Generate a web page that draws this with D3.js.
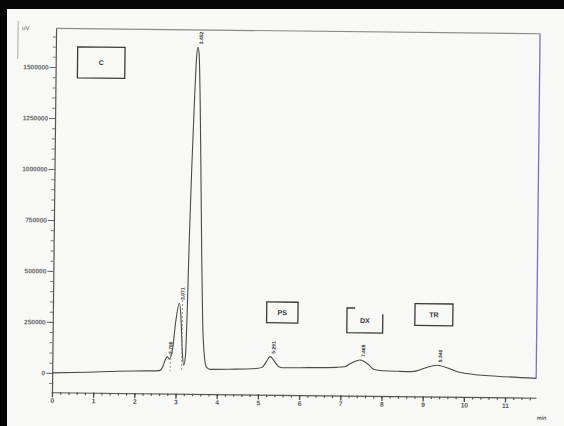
<!DOCTYPE html>
<html>
<head>
<meta charset="utf-8">
<script src="https://cdn.jsdelivr.net/npm/d3@7"></script>
<style>
body { margin: 0; background: #f8f8f7; }
svg { display: block; }
text { font-family: "Liberation Sans", Arial, sans-serif; }
</style>
</head>
<body>
<svg id="chart" width="564" height="426"></svg>
<script>
"use strict";

// chromatogram trace: time (min) and detector signal (uV)
var times = [0, 0.8, 1.6, 2.3, 2.6, 2.68, 2.74, 2.79, 2.84, 2.92, 2.98, 3.07, 3.11, 3.15,
    3.19, 3.23, 3.26, 3.29, 3.33, 3.38, 3.42, 3.45, 3.48, 3.52, 3.56, 3.60, 3.64, 3.69,
    3.74, 3.83, 4.3, 5.0, 5.1, 5.18, 5.29, 5.4, 5.5, 5.6, 6.2, 6.9, 7.1, 7.25, 7.47,
    7.65, 7.8, 7.95, 8.4, 8.7, 8.85, 9.05, 9.34, 9.6, 9.85, 10.05, 10.8, 11.75];
var signal = [0, 5000, 12000, 15000, 17000, 35000, 70000, 85000, 74000, 130000, 250000,
    350000, 280000, 120000, 45000, 90000, 300000, 650000, 1000000, 1350000, 1560000,
    1605000, 1570000, 1320000, 950000, 560000, 250000, 90000, 38000, 26000, 28000,
    34000, 40000, 62000, 92000, 66000, 43000, 38000, 40000, 43000, 46000, 64000, 80000,
    62000, 36000, 30000, 27000, 26000, 30000, 45000, 59000, 46000, 27000, 20000, 8500, 0];

// integrated peaks: retention time (min) and the printed label
var peak_times = [2.79, 3.07, 3.45, 5.29, 7.47, 9.34];
var peak_labels = ["2.790", "3.071", "3.452", "5.291", "7.468", "9.340"];

// compound names written on the print
var compounds = ["C", "PS", "DX", "TR"];

// axis ticks
var y_ticks = [0, 250000, 500000, 750000, 1000000, 1250000, 1500000];
var x_ticks = [0, 1, 2, 3, 4, 5, 6, 7, 8, 9, 10, 11];

var svg = d3.select('#chart');

// black edges of the photograph
svg.append('rect').attr('x', 0).attr('y', 0).attr('width', 564).attr('height', 9)
    .style('fill', '#050505');
svg.append('rect').attr('x', 0).attr('y', 0).attr('width', 7).attr('height', 426)
    .style('fill', '#050505');

// the sheet is photographed slightly turned
var g = svg.append('g').attr('transform', 'rotate(0.65, 295, 215)');

var x = d3.scaleLinear().domain([0, 11.75]).range([54, 538]);
var y = d3.scaleLinear().domain([-95000, 1690000]).range([395, 31]);

// unit label in the corner
g.append('line')
    .attr('x1', 16).attr('x2', 16).attr('y1', 24).attr('y2', 62)
    .style('stroke', '#aaa').style('stroke-width', 1);
g.append('text').attr('x', 20).attr('y', 33).text('uV')
    .style('font-size', '6px').style('fill', '#555');

// frame: top and right edges
g.append('line')
    .attr('x1', x(0)).attr('x2', x(11.75)).attr('y1', y(1690000)).attr('y2', y(1690000))
    .style('stroke', '#8a8a8a').style('stroke-width', 1.2);
g.append('line')
    .attr('x1', x(11.75)).attr('x2', x(11.75))
    .attr('y1', y(1690000)).attr('y2', y(signal[signal.length - 1]))
    .style('stroke', '#7773c4').style('stroke-width', 1.3);

// y axis, major and minor ticks
var minor_y = d3.range(-50000, 1690000, 50000);
g.append('g').attr('transform', 'translate(' + x(0) + ',0)')
    .call(d3.axisLeft(y).tickValues(minor_y).tickSize(3).tickFormat(''))
    .call(function(a) { a.select('.domain').remove(); })
    .selectAll('line').style('stroke', '#777');
var yaxis = g.append('g').attr('transform', 'translate(' + x(0) + ',0)')
    .call(d3.axisLeft(y).tickValues(y_ticks).tickSize(6).tickSizeOuter(0)
        .tickFormat(d3.format('d')));
yaxis.select('.domain').style('stroke', '#555').style('stroke-width', 1.2);
yaxis.selectAll('line').style('stroke', '#666');
yaxis.selectAll('text').style('font-size', '6.5px').style('font-weight', 'bold')
    .style('fill', '#666').attr('x', -7);

// x axis, major and minor ticks
var minor_x = d3.range(0, 11.75, 0.2);
g.append('g').attr('transform', 'translate(0,' + y(-95000) + ')')
    .call(d3.axisBottom(x).tickValues(minor_x).tickSize(2.5).tickFormat(''))
    .call(function(a) { a.select('.domain').remove(); })
    .selectAll('line').style('stroke', '#555').style('stroke-width', 1.2);
var xaxis = g.append('g').attr('transform', 'translate(0,' + y(-95000) + ')')
    .call(d3.axisBottom(x).tickValues(x_ticks).tickSize(5).tickSizeOuter(0)
        .tickFormat(d3.format('d')));
xaxis.select('.domain').style('stroke', '#555').style('stroke-width', 1.2);
xaxis.selectAll('line').style('stroke', '#444').style('stroke-width', 1.2);
xaxis.selectAll('text').style('font-size', '6.5px').style('font-weight', 'bold')
    .style('fill', '#555').attr('y', 6);
g.append('text').attr('x', x(11.75) + 1).attr('y', y(-95000) + 22).text('min')
    .style('font-size', '5.5px').style('font-weight', 'bold').style('fill', '#555');

// the chromatogram itself
var trace = times.map(function(t, i) { return [t, signal[i]]; });
var line = d3.line()
    .x(function(d) { return x(d[0]); })
    .y(function(d) { return y(d[1]); })
    .curve(d3.curveMonotoneX);
g.append('path').datum(trace).attr('d', line)
    .style('fill', 'none').style('stroke', '#4a4a4a').style('stroke-width', 1.1);

// retention time labels written upright above each peak
function apex(t) {
    var best = 0;
    times.forEach(function(s, i) {
        if (Math.abs(s - t) < 0.06 && signal[i] > best) best = signal[i];
    });
    return best;
}
peak_times.forEach(function(t, i) {
    var px = x(t) + 5, py = y(apex(t)) - 3;
    g.append('text')
        .attr('transform', 'translate(' + px + ',' + py + ') rotate(-90)')
        .text(peak_labels[i])
        .style('font-size', '5px').style('font-weight', 'bold').style('fill', '#333');
    if (i < 2) {
        g.append('line')
            .attr('x1', px - 2).attr('x2', px - 2)
            .attr('y1', py).attr('y2', y(15000))
            .style('stroke', '#777').style('stroke-width', 0.8)
            .style('stroke-dasharray', '2,2');
    }
});

// compound boxes, placed in data units
var boxes = [
    {t0: 0.53, t1: 1.68, v0: 1448000, v1: 1600000, open: false},
    {t0: 5.19, t1: 5.95, v0: 258000, v1: 360000, open: false},
    {t0: 7.14, t1: 8.01, v0: 213600, v1: 335000, open: true},
    {t0: 8.79, t1: 9.71, v0: 253000, v1: 360000, open: false}
];
boxes.forEach(function(b, i) {
    var x0 = x(b.t0), x1 = x(b.t1), y0 = y(b.v1), y1 = y(b.v0);
    var p = d3.path();
    if (b.open) {
        // drawn by hand: the top is only a short stroke on the left
        p.moveTo(x0 + 8, y0);
        p.lineTo(x0, y0);
        p.lineTo(x0, y1);
        p.lineTo(x1, y1);
        p.lineTo(x1, y0 + 6);
    } else {
        p.rect(x0, y0, x1 - x0, y1 - y0);
    }
    g.append('path').attr('d', p.toString())
        .style('fill', 'none').style('stroke', '#3a3a3a').style('stroke-width', 1.3);
    g.append('text')
        .attr('x', (x0 + x1) / 2).attr('y', (y0 + y1) / 2 + 2.5)
        .attr('text-anchor', 'middle')
        .text(compounds[i])
        .style('font-size', '7px').style('font-weight', 'bold').style('fill', '#333');
});
</script>
</body>
</html>
